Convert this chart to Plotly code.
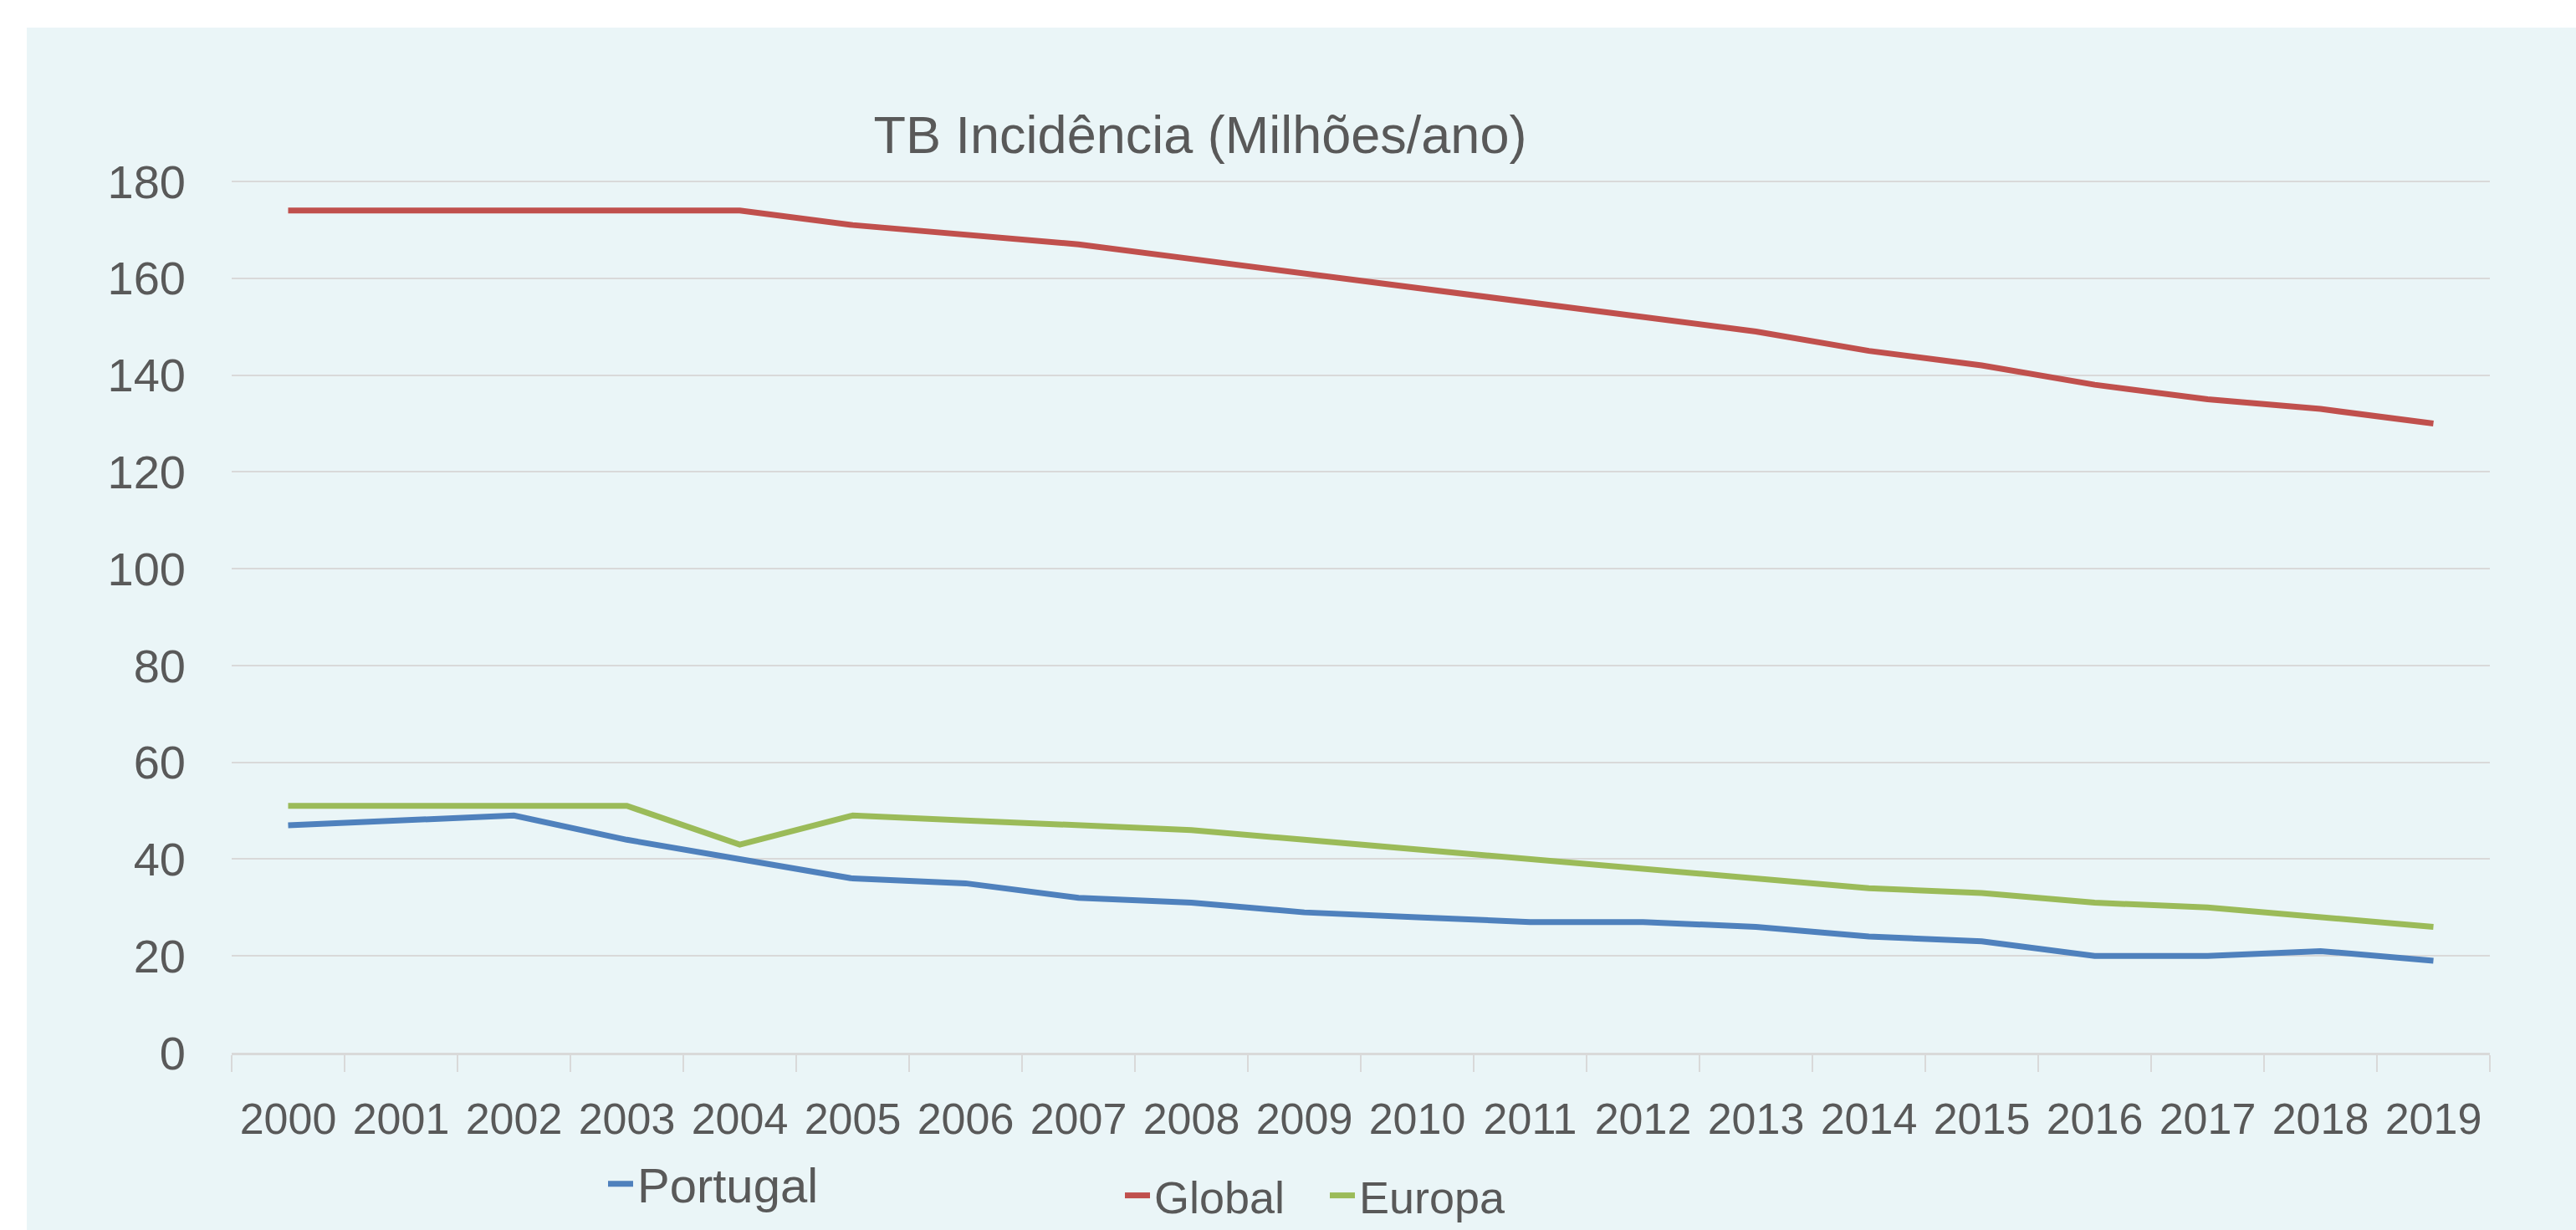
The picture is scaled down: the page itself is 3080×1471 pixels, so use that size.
import plotly.graph_objects as go

years = [str(y) for y in range(2000, 2020)]
portugal = [47, 48, 49, 44, 40, 36, 35, 32, 31, 29, 28, 27, 27, 26, 24, 23, 20, 20, 21, 19]
global_ = [174, 174, 174, 174, 174, 171, 169, 167, 164, 161, 158, 155, 152, 149, 145, 142, 138, 135, 133, 130]
europa = [51, 51, 51, 51, 43, 49, 48, 47, 46, 44, 42, 40, 38, 36, 34, 33, 31, 30, 28, 26]
y_ticks = list(range(0, 181, 20))

FONT = "Liberation Sans, Arial, sans-serif"
TXT = "#595959"
GRID = "#D9D9D9"
PANEL = "#EAF5F7"

W, H = 3080, 1471
L, R, T, B = 277, 3080 - 2977, 215, 1471 - 1259
pw, ph = W - L - R, H - T - B

def px_to_paper_x(px):
    return (px - L) / pw

def px_to_paper_y(py):
    return (H - B - py) / ph

fig = go.Figure()
fig.add_trace(go.Scatter(x=years, y=portugal, name="Portugal", mode="lines",
                         line=dict(color="#4F81BD", width=7), legend="legend", showlegend=True))
fig.add_trace(go.Scatter(x=years, y=global_, name="Global", mode="lines",
                         line=dict(color="#C0504D", width=7), legend="legend2", showlegend=True))
fig.add_trace(go.Scatter(x=years, y=europa, name="Europa", mode="lines",
                         line=dict(color="#9BBB59", width=7), legend="legend2", showlegend=True))

fig.add_shape(type="rect", xref="paper", yref="paper", layer="below",
              x0=px_to_paper_x(32), x1=px_to_paper_x(3100),
              y0=px_to_paper_y(1500), y1=px_to_paper_y(33),
              fillcolor=PANEL, line=dict(width=0))

fig.update_layout(
    width=W, height=H,
    showlegend=True,
    margin=dict(l=L, r=R, t=T, b=B, pad=0, autoexpand=False),
    paper_bgcolor="white",
    plot_bgcolor=PANEL,
    font=dict(family=FONT, color=TXT, size=52),
    title=dict(text="TB Incidência (Milhões/ano)", x=1435 / W, xanchor="center",
               y=1 - 161 / H, yanchor="middle", yref="container", xref="container",
               font=dict(family=FONT, size=63, color=TXT)),
    xaxis=dict(type="category", range=[-0.5, len(years) - 0.5],
               showgrid=False, showline=True, linecolor=GRID, linewidth=3,
               ticks="outside", tickson="boundaries", ticklen=20, tickwidth=2, tickcolor=GRID,
               tickfont=dict(family=FONT, size=52, color=TXT), ticklabelstandoff=32,
               tickangle=0, automargin=False, zeroline=False),
    yaxis=dict(range=[0, 180.35], tickvals=y_ticks, showgrid=True, gridcolor=GRID, gridwidth=2,
               zeroline=False, showline=False, ticks="", automargin=False,
               tickfont=dict(family=FONT, size=56, color=TXT), ticklabelstandoff=54),
    legend=dict(orientation="h", xref="container", yref="container",
                x=722 / W, xanchor="left", y=1 - 1416 / H, yanchor="middle",
                bgcolor="rgba(0,0,0,0)",
                font=dict(family=FONT, size=58, color=TXT)),
    legend2=dict(orientation="h", xref="container", yref="container",
                 x=1340 / W, xanchor="left", y=1 - 1430 / H, yanchor="middle",
                 bgcolor="rgba(0,0,0,0)", entrywidth=200,
                 font=dict(family=FONT, size=54, color=TXT)),
)

fig.write_html("out.html", config={"displayModeBar": False},
               post_script="document.body.style.margin='0';document.body.style.overflow='hidden';")
